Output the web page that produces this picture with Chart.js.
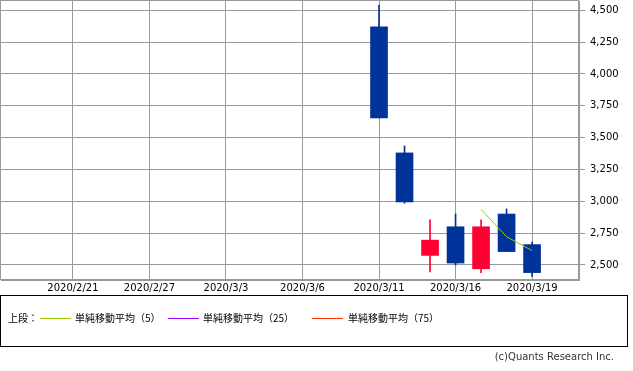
<!DOCTYPE html>
<html>
<head>
<meta charset="utf-8">
<script src="https://cdn.jsdelivr.net/npm/chart.js@4"></script>
<style>
  body { margin: 0; background: #fff; }
  #wrap { position: relative; width: 633px; height: 371px; overflow: hidden; font-family: "Noto Sans CJK JP", "DejaVu Sans", sans-serif; }
  #chartBox { position: absolute; left: 0; top: 0; width: 633px; height: 300px; }
  #legendBox { position: absolute; left: 0; top: 295px; width: 628px; height: 52px; box-sizing: border-box; border: 1px solid #000; }
  .lg { position: absolute; top: 15px; line-height: 14px; font-size: 10px; color: #000; white-space: nowrap; }
  .ln { position: absolute; top: 22px; width: 31px; height: 1px; }
  #copy { position: absolute; right: 19px; top: 350px; line-height: 14px; font-size: 10px; color: #333; font-family: "DejaVu Sans", sans-serif; }
</style>
</head>
<body>
<div id="wrap">
  <div id="chartBox"><canvas id="candleChart" width="633" height="300"></canvas></div>
  <div id="legendBox">
    <span class="lg" style="left:7px">上段：</span>
    <span class="ln" style="left:39px;background:#99cc00"></span>
    <span class="lg" style="left:74px">単純移動平均（5）</span>
    <span class="ln" style="left:167px;background:#9900ff"></span>
    <span class="lg" style="left:202px">単純移動平均（25）</span>
    <span class="ln" style="left:311px;background:#ff3300"></span>
    <span class="lg" style="left:347px">単純移動平均（75）</span>
  </div>
  <div id="copy">(c)Quants Research Inc.</div>
</div>
<script>
// trading days shown on the x axis (index = position)
const dates = ['2020/2/21', '2020/2/25', '2020/2/26', '2020/2/27', '2020/2/28', '2020/3/2', '2020/3/3',
  '2020/3/4', '2020/3/5', '2020/3/6', '2020/3/9', '2020/3/10', '2020/3/11', '2020/3/12', '2020/3/13',
  '2020/3/16', '2020/3/17', '2020/3/18', '2020/3/19'];
const labelIdx = [0, 3, 6, 9, 12, 15, 18];
const yTicks = [2500, 2750, 3000, 3250, 3500, 3750, 4000, 4250, 4500];

const opens  = [null, null, null, null, null, null, null, null, null, null, null, null, 4370, 3380, 2575, 2800, 2470, 2900, 2660];
const closes = [null, null, null, null, null, null, null, null, null, null, null, null, 3655, 2995, 2695, 2515, 2800, 2605, 2440];
const highs  = [null, null, null, null, null, null, null, null, null, null, null, null, 4540, 3435, 2855, 2900, 2855, 2940, 2680];
const lows   = [null, null, null, null, null, null, null, null, null, null, null, null, 3655, 2985, 2445, 2500, 2440, 2605, 2410];
const ma5    = [null, null, null, null, null, null, null, null, null, null, null, null, null, null, null, null, 2937, 2722, 2613];
const ma25   = [];
const ma75   = [];

const UP = '#ff0033', DOWN = '#003399';

let bodies = [], wicks = [], cols = [], ma5pts = [];
dates.forEach(function (d, i) {
  if (opens[i] != null) {
    bodies.push({x: i, y: [opens[i], closes[i]]});
    wicks.push({x: i, y: [lows[i], highs[i]]});
    cols.push(closes[i] >= opens[i] ? UP : DOWN);
  }
  if (ma5[i] != null) ma5pts.push({x: i, y: ma5[i]});
});

// frame on top/left of the plot
const frame = {
  id: 'frame',
  beforeDatasetsDraw(chart) {
    const a = chart.chartArea, c = chart.ctx;
    c.save();
    c.strokeStyle = '#999';
    c.lineWidth = 1;
    c.strokeRect(a.left - 0.5, a.top - 0.5, a.right - a.left, a.bottom - a.top);
    c.restore();
  }
};

Chart.defaults.font.family = 'DejaVu Sans';
Chart.defaults.font.size = 10;
Chart.defaults.color = '#000';

new Chart(document.getElementById('candleChart'), {
  type: 'bar',
  data: {
    datasets: [
      { type: 'line', label: 'ma5', data: ma5pts, borderColor: '#99cc00', borderWidth: 1, pointRadius: 0, order: 0 },
      { type: 'line', label: 'ma25', data: ma25, borderColor: '#9900ff', borderWidth: 1, pointRadius: 0, order: 0 },
      { type: 'line', label: 'ma75', data: ma75, borderColor: '#ff3300', borderWidth: 1, pointRadius: 0, order: 0 },
      { label: 'body', data: bodies, backgroundColor: cols, barThickness: 17, borderWidth: 0, grouped: false, order: 1 },
      { label: 'wick', data: wicks, backgroundColor: cols, barThickness: 1, borderWidth: 0, grouped: false, order: 2 }
    ]
  },
  options: {
    responsive: false,
    animation: false,
    layout: { padding: { left: 1, top: 1 } },
    plugins: { legend: { display: false }, tooltip: { enabled: false } },
    scales: {
      x: {
        type: 'linear',
        offset: false,
        min: -2.82,
        max: 19.84,
        afterBuildTicks: function (s) { s.ticks = labelIdx.map(function (v) { return {value: v}; }); },
        afterFit: function (s) { s.height = 20; s.paddingLeft = 0; s.paddingRight = 0; },
        ticks: {
          autoSkip: false,
          maxRotation: 0,
          padding: 2,
          callback: function (v) { return dates[v]; }
        },
        grid: { color: '#999', drawTicks: false, offset: false },
        border: { color: '#999' }
      },
      y: {
        position: 'right',
        min: 2382,
        max: 4573,
        afterBuildTicks: function (s) { s.ticks = yTicks.map(function (v) { return {value: v}; }); },
        afterFit: function (s) { s.width = 54; s.paddingTop = 0; s.paddingBottom = 0; },
        ticks: {
          padding: 5,
          callback: function (v) { return v.toLocaleString('en-US'); }
        },
        grid: { color: '#999', tickLength: 6 },
        border: { color: '#999' }
      }
    }
  },
  plugins: [frame]
});
</script>
</body>
</html>
